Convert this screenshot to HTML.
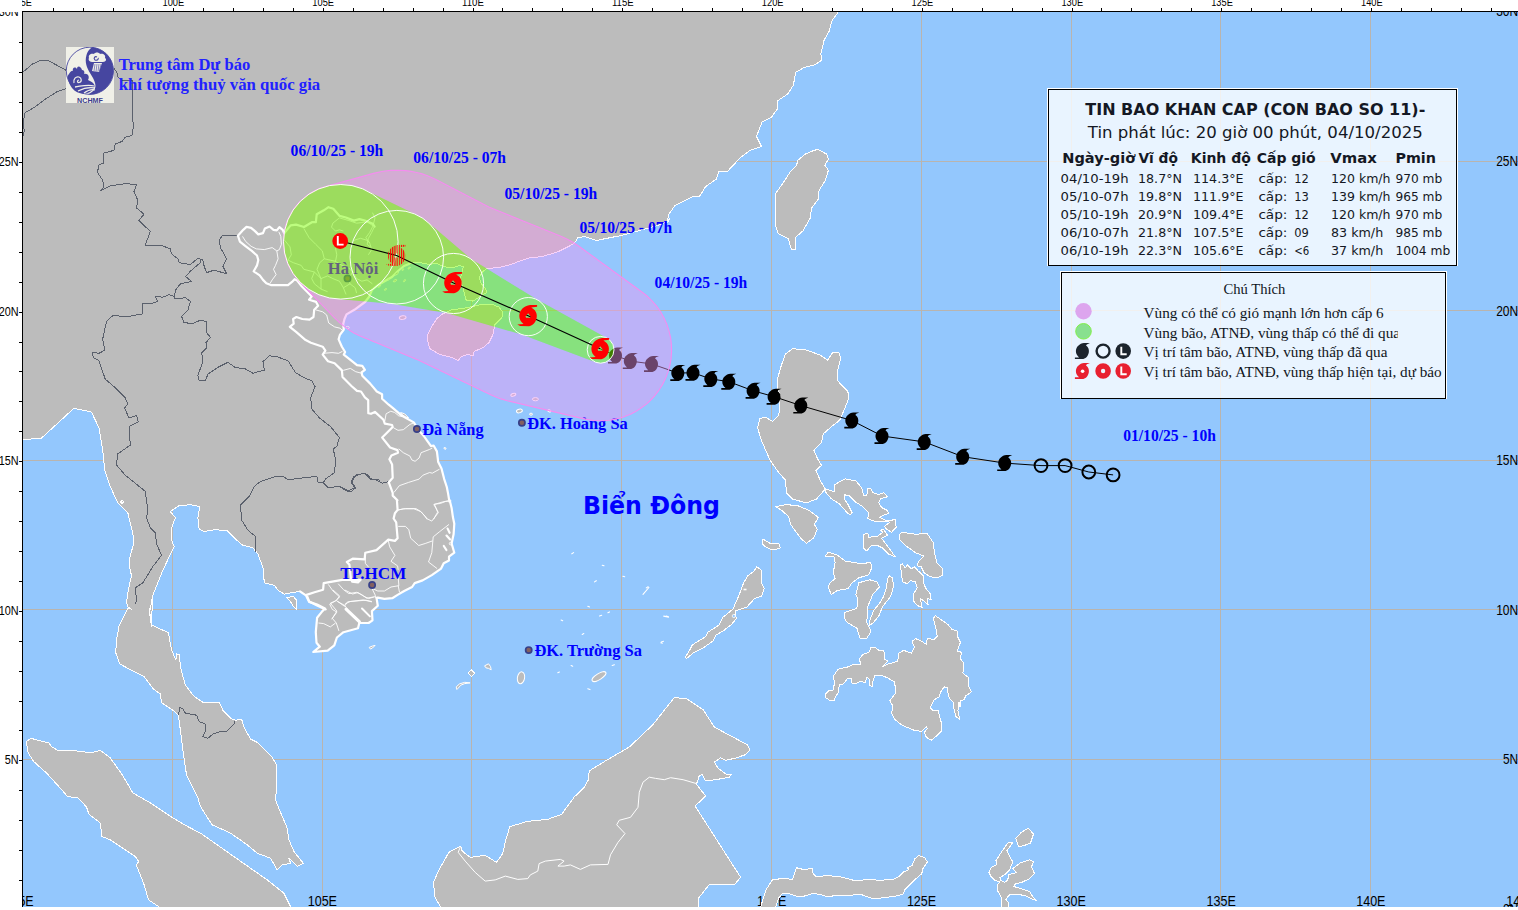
<!DOCTYPE html>
<html lang="vi"><head><meta charset="utf-8"><title>Tin bao khan cap - Con bao so 11</title>
<style>html,body{margin:0;padding:0;background:#fff;overflow:hidden}body{width:1518px;height:910px;position:relative}</style></head>
<body>
<svg width="1518" height="910" viewBox="0 0 1518 910" style="position:absolute;left:0;top:0">
<defs>
<clipPath id="mapclip"><rect x="23" y="12" width="1495" height="895"/></clipPath>
<mask id="nogreen" maskUnits="userSpaceOnUse" x="0" y="0" width="1518" height="910"><rect width="1518" height="910" fill="#fff"/><path d="M337.9,184.6 L333.7,184.9 L328.2,185.9 L324.1,187.0 L320.1,188.3 L316.3,190.0 L312.5,191.9 L307.8,195.0 L304.4,197.5 L301.2,200.3 L297.4,204.4 L294.7,207.7 L292.3,211.1 L290.2,214.8 L288.4,218.6 L286.8,222.5 L285.2,227.9 L284.1,233.4 L283.6,237.6 L283.4,241.8 L283.6,246.0 L284.1,250.2 L284.8,254.4 L285.9,258.4 L287.3,262.4 L289.0,266.3 L291.6,271.3 L293.9,274.8 L296.5,278.2 L299.3,281.3 L302.3,284.3 L305.5,287.0 L310.1,290.2 L315.0,293.0 L320.1,295.3 L325.5,297.0 L331.0,298.3 L335.1,298.8 L390.9,303.7 L446.8,312.9 L522.3,334.7 L597.7,362.9 L599.9,363.2 L601.9,363.1 L605.7,362.2 L607.5,361.3 L609.4,359.9 L611.9,357.0 L613.0,354.9 L613.7,352.4 L614.0,350.1 L613.8,347.5 L613.1,345.0 L611.9,342.6 L610.5,340.8 L608.6,339.0 L537.9,300.1 L471.2,259.1 L426.5,221.0 L421.8,217.7 L416.8,214.9 L365.2,190.0 L361.4,188.3 L354.7,186.2 L349.2,185.1 L343.6,184.6Z" fill="#000"/></mask>
<path id="ty" d="M7.4,-8 L1.5,-8 C-3,-7.6 -6.6,-4 -6.6,0.2 C-6.6,2.6 -5.4,4.6 -3.4,6.3 L-7.6,6.3 L-7.6,8 L0.8,8 C4,7.2 6.4,3.9 6.4,0 C6.4,-1.8 5.8,-3.4 4.7,-4.5 L3.5,-5.5 L4.3,-6.7 Z"/>
<path id="tyr" fill-rule="evenodd" d="M9,-10.8 L2,-10.8 C-4,-10.3 -8.8,-5.5 -8.8,0.3 C-8.8,3.6 -7.2,6.3 -4.6,8.3 L-10.8,8.6 L-8,10.3 L1,10.5 C5.4,9.6 8.7,5.3 8.7,0 C8.7,-2.8 7.4,-5.3 5.3,-6.9 L3.2,-8.3 L9,-9 Z M0,-2.6 L2.6,0.6 L2,2 L-2,2 L-2.6,0.6 Z"/>
<clipPath id="tyclip"><use href="#tyr"/></clipPath>
<pattern id="hatch" width="2.2" height="4" patternUnits="userSpaceOnUse"><rect width="1.1" height="4" fill="#f00"/></pattern>
</defs>
<rect width="1518" height="910" fill="#fff"/>
<g clip-path="url(#mapclip)">
<rect x="23" y="12" width="1495" height="895" fill="#93c7fd"/>
<path d="M172.5,12 V907 M322.5,12 V907 M471.5,12 V907 M621.5,12 V907 M771.5,12 V907 M921.5,12 V907 M1071.5,12 V907 M1220.5,12 V907 M1370.5,12 V907 M23,161.5 H1518 M23,310.5 H1518 M23,460.5 H1518 M23,609.5 H1518 M23,759.5 H1518 " stroke="#b9b4ae" stroke-width="1" fill="none" shape-rendering="crispEdges"/>
<g font-family="Liberation Sans, Arial, sans-serif" font-size="14px" fill="#000">
<text x="11.5" y="906" textLength="22.2" lengthAdjust="spacingAndGlyphs">95E</text>
<text x="157.8" y="906" textLength="29.3" lengthAdjust="spacingAndGlyphs">100E</text>
<text x="307.7" y="906" textLength="29.3" lengthAdjust="spacingAndGlyphs">105E</text>
<text x="457.5" y="906" textLength="29.3" lengthAdjust="spacingAndGlyphs">110E</text>
<text x="607.2" y="906" textLength="29.3" lengthAdjust="spacingAndGlyphs">115E</text>
<text x="757.1" y="906" textLength="29.3" lengthAdjust="spacingAndGlyphs">120E</text>
<text x="906.9" y="906" textLength="29.3" lengthAdjust="spacingAndGlyphs">125E</text>
<text x="1056.6" y="906" textLength="29.3" lengthAdjust="spacingAndGlyphs">130E</text>
<text x="1206.5" y="906" textLength="29.3" lengthAdjust="spacingAndGlyphs">135E</text>
<text x="1356.2" y="906" textLength="29.3" lengthAdjust="spacingAndGlyphs">140E</text>
<text x="1506.2" y="906" textLength="29.3" lengthAdjust="spacingAndGlyphs">145E</text>
<text x="1496.2" y="15.8" textLength="22.0" lengthAdjust="spacingAndGlyphs">30N</text>
<text x="1496.2" y="166.0" textLength="22.0" lengthAdjust="spacingAndGlyphs">25N</text>
<text x="1496.2" y="315.5" textLength="22.0" lengthAdjust="spacingAndGlyphs">20N</text>
<text x="1496.2" y="465.0" textLength="22.0" lengthAdjust="spacingAndGlyphs">15N</text>
<text x="1496.2" y="614.5" textLength="22.0" lengthAdjust="spacingAndGlyphs">10N</text>
<text x="1503.0" y="764.0" textLength="15.2" lengthAdjust="spacingAndGlyphs">5N</text>
<text x="1503.0" y="913.5" textLength="15.2" lengthAdjust="spacingAndGlyphs">0N</text>
</g>
<path d="M17.0,6.0 L841.0,6.0 L837.9,12.5 L831.6,21.3 L829.1,31.3 L824.1,40.1 L820.9,53.9 L821.6,60.1 L815.4,64.6 L804.1,67.6 L795.8,72.1 L793.3,85.2 L787.8,93.9 L777.8,100.7 L777.3,109.0 L771.5,117.2 L762.0,122.0 L756.5,136.5 L761.5,146.5 L750.2,150.3 L740.2,157.8 L727.7,171.1 L718.9,171.6 L716.4,179.1 L705.6,186.6 L699.4,196.6 L693.9,196.1 L675.1,205.4 L668.8,214.2 L667.1,222.9 L669.7,218.8 L666.3,222.1 L658.0,225.5 L639.6,230.5 L621.2,235.5 L609.5,237.8 L596.2,240.5 L584.5,236.5 L577.8,237.8 L574.5,243.2 L570.1,245.7 L558.2,251.6 L542.4,256.6 L530.5,257.6 L518.7,261.5 L510.7,264.5 L498.9,267.5 L487.0,268.5 L483.1,271.4 L479.1,277.4 L481.1,283.3 L485.0,288.2 L487.0,292.2 L479.1,297.1 L473.2,301.1 L466.2,300.1 L463.3,289.2 L460.3,279.3 L463.3,266.5 L459.3,265.5 L452.0,268.0 L443.5,266.5 L436.0,263.0 L429.7,264.5 L419.8,262.5 L413.0,263.0 L409.0,264.0 L404.0,266.0 L398.0,271.0 L392.0,277.0 L385.0,281.0 L378.0,285.0 L372.0,290.0 L369.0,297.0 L365.0,302.0 L354.4,309.8 L346.5,314.4 L344.5,319.0 L343.2,324.3 L343.8,329.6 L339.9,334.8 L338.6,339.4 L341.9,346.7 L345.1,352.0 L343.8,354.6 L350.4,359.9 L357.0,365.1 L362.3,365.8 L364.9,369.8 L361.6,372.4 L362.3,375.7 L370.2,383.6 L376.8,391.5 L382.1,394.2 L382.1,398.8 L388.7,404.7 L392.7,407.9 L402.0,415.8 L413.8,422.4 L417.8,429.0 L424.4,436.9 L431.0,446.1 L433.6,445.5 L436.9,451.4 L438.2,462.0 L441.5,468.6 L444.2,479.1 L446.8,487.0 L448.1,493.6 L449.4,501.5 L449.6,500.0 L451.6,507.9 L452.9,517.1 L454.3,523.7 L453.6,534.3 L451.6,543.5 L454.3,552.7 L449.0,556.7 L449.0,560.6 L443.7,563.3 L441.1,568.6 L431.8,575.1 L422.6,580.4 L414.7,583.1 L412.1,587.0 L404.2,591.0 L397.6,594.9 L392.3,598.2 L384.4,598.9 L377.8,597.6 L376.5,597.9 L377.8,605.8 L371.9,611.1 L372.5,620.3 L368.6,623.0 L359.3,623.0 L358.0,628.2 L343.5,632.2 L336.9,637.5 L334.3,645.4 L327.7,650.6 L313.2,652.0 L319.8,646.7 L316.5,642.7 L315.8,632.2 L317.1,617.7 L322.4,611.1 L325.0,608.5 L317.1,604.5 L309.2,601.9 L305.9,595.3 L300.0,591.3 L284.3,594.1 L278.1,590.4 L274.3,585.4 L264.3,582.9 L263.0,567.8 L258.0,554.1 L253.0,547.8 L241.7,544.8 L233.0,536.5 L226.7,530.3 L214.2,529.8 L204.2,531.5 L199.1,529.0 L197.9,517.7 L199.9,506.5 L190.4,504.7 L179.1,505.7 L170.3,511.5 L175.4,517.7 L171.6,527.8 L171.6,540.3 L174.1,546.5 L162.8,570.3 L152.8,595.4 L149.5,612.9 L151.6,626.7 L152.3,600.0 L149.5,610.0 L151.6,625.1 L162.8,630.1 L168.3,632.6 L171.6,650.1 L175.9,660.1 L176.6,653.9 L179.1,654.6 L180.9,668.9 L185.4,685.2 L194.1,696.4 L202.9,702.2 L212.9,702.7 L219.2,702.2 L222.9,710.2 L231.7,719.0 L235.5,720.2 L241.7,719.5 L244.2,727.8 L250.5,739.0 L258.0,742.8 L271.8,756.6 L276.8,765.3 L276.8,782.9 L275.6,800.4 L281.8,815.4 L286.8,826.7 L288.9,839.8 L293.9,851.5 L303.3,863.2 L297.3,866.5 L288.9,858.2 L290.6,863.2 L282.2,864.9 L277.2,869.9 L270.5,858.2 L257.2,853.2 L247.2,844.8 L230.5,833.1 L212.1,824.8 L200.4,806.4 L197.9,797.9 L186.6,775.4 L183.6,755.3 L180.4,730.3 L178.4,715.2 L172.8,710.2 L161.6,702.7 L160.3,693.9 L153.3,688.9 L144.0,676.4 L130.3,669.6 L119.7,663.9 L115.7,652.6 L116.5,640.1 L119.0,626.3 L124.0,616.3 L128.3,607.0 L131.5,609.2 L128.3,607.9 L126.5,602.9 L127.8,592.9 L131.5,575.4 L129.0,565.3 L130.3,555.3 L134.0,542.8 L132.8,532.8 L127.8,512.7 L117.7,502.7 L110.2,486.4 L104.7,470.1 L102.7,450.1 L98.9,427.6 L91.4,412.0 L73.9,408.3 L41.3,438.3 L23.0,439.6 L17.0,439.9Z M26.3,741.5 L31.3,738.3 L37.6,740.3 L48.8,742.8 L51.4,746.5 L57.6,750.3 L75.2,750.8 L91.4,752.8 L100.2,750.3 L110.2,757.8 L122.7,775.4 L132.8,792.9 L150.3,802.9 L172.8,817.9 L187.9,826.7 L200.4,833.1 L233.8,856.5 L267.2,879.9 L283.9,893.2 L290.6,906.6 L292.0,913.0 L160.0,913.0 L158.7,906.6 L148.6,899.9 L143.6,883.2 L136.3,864.9 L138.6,861.5 L135.3,856.5 L125.3,849.8 L110.2,839.8 L101.9,836.5 L100.2,822.9 L88.9,814.2 L86.4,806.7 L77.7,797.9 L67.6,796.6 L60.1,787.9 L46.3,772.8 L33.8,761.6 L28.1,752.8Z M817.9,149.5 L826.6,154.1 L828.4,159.1 L824.9,165.3 L828.4,170.3 L825.4,180.4 L819.1,190.4 L818.4,199.1 L811.6,207.9 L810.3,217.9 L805.3,226.7 L803.3,230.5 L795.9,237.1 L795.2,249.8 L791.6,249.8 L788.2,238.8 L778.2,233.8 L775.9,227.1 L775.3,194.1 L784.0,181.6 L790.3,171.6 L796.6,165.3 L797.8,160.3 L805.3,154.1 L814.1,150.3Z M825.2,489.1 L820.2,480.3 L815.9,470.3 L821.5,465.3 L817.7,459.0 L813.9,450.3 L821.5,442.7 L823.2,434.0 L830.2,427.7 L839.7,420.2 L844.0,410.2 L849.0,397.7 L847.8,391.4 L842.7,386.4 L837.2,380.1 L837.7,370.1 L840.7,358.8 L839.0,352.6 L832.7,352.6 L827.7,360.1 L820.2,355.1 L805.2,349.6 L792.6,348.8 L785.6,353.8 L781.4,365.1 L777.1,380.1 L777.6,388.9 L780.1,395.2 L778.9,415.2 L772.6,421.5 L766.3,417.7 L760.1,418.2 L757.6,427.7 L761.3,440.2 L770.1,460.3 L778.9,472.8 L785.6,480.3 L786.4,492.8 L792.6,499.1 L806.4,502.9 L816.4,499.1Z M825.3,491.8 L831.2,498.7 L839.1,503.6 L847.0,512.5 L850.0,515.1 L852.0,512.5 L848.0,504.6 L844.0,498.7 L844.0,494.7 L849.0,495.7 L854.9,501.6 L862.8,506.6 L868.8,512.5 L867.8,518.5 L874.7,521.4 L882.6,521.8 L890.5,520.4 L895.5,519.4 L896.1,527.4 L891.5,532.3 L886.6,529.3 L884.6,526.4 L889.5,522.4 L879.6,517.5 L882.6,515.5 L888.5,513.5 L887.6,510.5 L881.6,507.6 L878.7,502.6 L880.6,498.7 L887.6,496.7 L883.6,492.7 L878.7,494.7 L872.7,492.7 L870.7,488.2 L867.8,488.8 L866.8,495.7 L863.8,495.7 L861.8,487.8 L855.9,480.9 L845.0,478.9 L834.2,484.8 L834.2,491.8 L825.3,488.8Z M440.1,906.2 L435.1,897.4 L433.4,882.4 L438.9,869.9 L448.9,852.3 L460.7,846.1 L462.2,851.1 L470.2,857.4 L485.2,855.3 L496.5,862.4 L502.7,853.6 L505.8,839.8 L509.8,826.8 L526.5,821.5 L547.8,819.3 L561.6,814.3 L574.1,797.2 L584.2,787.2 L588.4,779.7 L589.2,770.9 L605.5,760.9 L629.2,747.1 L653.0,724.6 L674.3,697.5 L686.9,699.0 L703.1,709.6 L714.4,727.1 L730.7,735.9 L747.0,744.6 L750.0,749.6 L745.7,754.6 L734.5,758.4 L725.7,760.2 L720.7,757.7 L714.4,762.2 L718.2,768.4 L726.9,774.7 L731.2,774.2 L729.4,777.2 L715.7,779.7 L705.7,780.9 L701.9,774.2 L698.6,776.7 L697.6,782.2 L696.1,783.5 L700.6,789.7 L705.7,796.0 L695.1,806.0 L740.7,877.4 L734.5,884.4 L709.4,884.4 L698.1,898.7 L698.6,913.0 L440.1,913.0Z M286.8,597.9 L293.1,596.1 L296.8,600.4 L296.8,609.2 L293.6,606.7 L290.6,601.7Z M122.0,500.2 L123.7,502.0 L122.0,503.7 L120.5,502.0Z M775.8,506.6 L785.7,504.6 L797.6,505.6 L809.4,510.5 L818.3,517.5 L814.4,524.4 L817.4,529.3 L813.4,538.2 L806.5,543.2 L801.5,539.2 L795.6,531.3 L790.7,524.4 L788.7,516.5 L781.8,510.5Z M763.0,539.2 L769.9,543.2 L778.8,543.2 L780.2,548.1 L772.9,550.1 L765.9,547.1 L762.4,544.2Z M863.8,534.3 L867.8,533.3 L868.8,537.2 L877.7,536.2 L882.6,532.3 L880.6,530.3 L883.6,529.3 L887.6,535.3 L881.6,538.2 L886.6,545.1 L895.5,557.0 L888.5,554.0 L882.6,548.1 L876.7,545.1 L870.7,546.1 L866.8,551.1 L863.8,548.1 L863.8,541.2Z M899.4,534.3 L902.4,532.3 L916.2,534.3 L927.1,533.3 L933.0,542.2 L935.0,555.0 L937.0,562.9 L942.9,568.9 L942.9,574.8 L938.0,577.8 L930.1,576.8 L924.1,572.8 L921.2,566.9 L917.2,565.9 L918.2,562.0 L924.1,556.0 L916.2,553.1 L906.3,546.1 L899.4,539.2Z M900.4,564.9 L902.4,563.9 L905.4,567.9 L907.3,564.9 L911.3,568.9 L914.3,566.9 L918.2,570.9 L923.2,575.8 L923.2,582.7 L926.1,588.7 L930.1,593.6 L931.1,599.5 L927.1,598.5 L928.1,604.5 L923.2,600.5 L920.2,598.5 L922.2,607.4 L917.2,605.5 L913.3,600.5 L913.3,594.6 L917.2,587.7 L915.2,581.7 L910.3,580.7 L907.3,583.7 L902.4,581.7 L901.4,572.8Z M825.3,556.0 L828.2,552.1 L837.1,555.0 L845.0,561.0 L862.8,563.9 L870.7,562.0 L871.7,567.9 L868.8,574.8 L858.9,577.8 L852.0,582.7 L848.0,588.7 L837.1,590.6 L831.2,594.6 L828.2,586.7 L830.2,582.7 L835.1,578.8 L833.2,572.8 L835.1,562.9 L834.2,557.0Z M858.9,582.7 L869.8,579.8 L876.7,581.7 L879.6,586.7 L872.7,594.6 L867.8,606.5 L866.8,622.3 L869.8,628.2 L870.7,632.2 L866.8,638.1 L859.9,638.1 L856.9,628.2 L847.0,622.3 L844.0,617.3 L845.0,612.4 L856.9,608.4 L857.9,598.5 L855.9,594.6Z M889.5,575.8 L892.5,577.8 L893.5,586.7 L890.5,596.6 L882.6,606.5 L878.7,616.3 L872.7,623.3 L869.8,625.2 L869.8,620.3 L873.7,610.4 L878.7,604.5 L883.6,596.6 L886.6,586.7 L887.6,578.8Z M935.2,615.7 L941.2,619.7 L948.1,624.6 L952.1,629.6 L957.0,630.5 L958.0,637.5 L960.4,642.4 L957.0,651.3 L961.9,652.3 L960.0,658.2 L963.9,663.2 L962.9,673.1 L968.9,678.0 L968.9,686.9 L971.4,691.8 L965.9,695.8 L963.9,699.8 L960.9,700.7 L960.0,706.7 L959.0,701.7 L958.0,710.6 L959.6,719.5 L956.0,716.6 L954.0,708.7 L953.0,701.7 L949.1,697.8 L948.1,693.8 L947.7,687.9 L944.1,686.9 L941.2,690.9 L939.2,696.8 L934.3,699.8 L930.3,707.7 L933.3,710.6 L938.2,710.6 L940.2,718.5 L941.8,724.5 L941.2,731.4 L936.2,736.3 L931.3,740.3 L926.3,737.3 L924.4,732.4 L927.3,728.4 L926.3,726.5 L921.4,731.4 L914.5,730.4 L902.6,725.5 L894.7,719.5 L891.7,713.6 L892.7,705.7 L889.8,700.7 L895.7,692.8 L894.7,682.0 L887.8,678.0 L880.9,675.0 L874.9,675.0 L872.9,681.0 L872.0,686.9 L869.0,684.9 L870.0,680.0 L867.0,677.0 L865.0,682.9 L860.1,681.0 L856.1,683.9 L852.2,683.9 L851.2,678.0 L847.2,679.0 L843.3,683.9 L839.3,684.9 L838.3,692.8 L835.4,696.8 L834.4,700.7 L830.4,700.7 L825.9,697.8 L825.5,693.8 L828.5,690.9 L833.4,689.9 L834.4,682.9 L833.4,676.0 L838.3,669.1 L847.2,667.1 L854.2,664.2 L861.1,664.2 L859.1,659.2 L863.1,654.3 L869.0,652.3 L871.0,647.4 L874.9,647.4 L878.9,650.3 L883.8,650.3 L884.8,659.2 L887.8,661.2 L882.8,666.1 L881.8,667.1 L887.8,664.2 L897.7,661.2 L898.7,653.3 L903.6,650.3 L911.5,653.3 L914.5,647.4 L912.1,641.4 L915.5,638.5 L922.4,641.8 L926.3,644.4 L927.3,638.5 L934.3,639.4 L937.2,636.5 L936.2,629.6 L933.3,618.7Z M756.7,566.7 L761.0,569.7 L761.0,581.5 L764.2,588.5 L761.6,596.4 L754.7,598.3 L746.8,607.2 L735.9,610.8 L734.9,614.2 L736.5,618.1 L732.0,624.0 L723.1,631.0 L716.1,634.9 L713.2,640.9 L703.3,647.8 L693.4,652.7 L686.5,658.7 L685.5,656.7 L689.4,650.7 L692.4,644.8 L705.3,636.9 L708.2,632.0 L719.1,625.0 L723.1,617.1 L732.9,609.2 L738.9,595.4 L743.8,582.5 L747.8,575.6 L753.7,571.6Z M758.8,913.0 L765.7,890.4 L772.6,879.6 L782.5,878.6 L792.4,879.2 L794.3,874.6 L796.3,867.7 L804.2,869.7 L812.1,868.3 L813.1,873.6 L816.1,876.6 L827.0,875.6 L838.8,876.6 L847.7,878.6 L855.6,880.9 L866.5,879.6 L880.3,880.2 L893.2,879.6 L900.1,875.6 L904.0,871.7 L909.0,869.7 L907.0,867.7 L911.9,865.7 L914.9,858.8 L918.9,855.5 L924.8,857.8 L927.4,861.8 L922.8,868.7 L921.8,873.6 L914.9,879.6 L910.0,884.5 L905.0,889.4 L903.0,894.4 L894.2,896.4 L885.3,897.4 L878.3,898.3 L871.4,898.3 L866.5,896.4 L859.6,894.0 L850.7,895.4 L842.8,896.0 L836.8,895.4 L827.0,896.8 L820.0,894.4 L813.1,893.4 L803.2,896.4 L797.3,896.4 L790.4,894.0 L782.5,893.4 L778.5,898.3 L773.6,913.0Z M1015.7,838.1 L1021.6,832.1 L1028.5,828.2 L1033.5,834.1 L1030.5,843.0 L1024.6,845.4 L1018.7,847.0Z M1007.8,843.0 L1012.7,842.6 L1006.8,850.9 L1009.8,856.8 L1012.7,861.8 L1009.8,869.7 L1004.8,874.6 L999.9,877.6 L1000.9,880.6 L1004.8,882.5 L1007.8,879.6 L1008.8,874.6 L1016.7,872.6 L1012.7,868.7 L1020.6,862.8 L1029.5,859.8 L1033.5,861.8 L1031.5,866.7 L1034.5,873.6 L1029.5,878.6 L1021.6,882.5 L1015.7,883.5 L1013.7,886.5 L1020.6,888.5 L1029.5,891.4 L1032.5,896.4 L1036.4,900.3 L1032.5,899.3 L1024.6,895.4 L1016.7,894.4 L1009.8,894.4 L1005.8,899.3 L1008.8,903.3 L1006.8,913.0 L1000.9,913.0 L1001.9,901.3 L1000.9,896.4 L997.9,891.4 L997.9,884.5 L999.9,881.5 L994.9,880.6 L991.0,876.6 L989.0,872.6 L991.0,867.7 L996.9,864.7 L995.9,860.8 L1000.9,852.9Z M442.5,313.9 L451.4,310.0 L465.3,308.0 L479.1,305.0 L491.0,304.0 L498.9,307.0 L502.8,312.0 L501.8,317.9 L494.9,324.8 L492.9,334.7 L489.0,342.6 L483.1,347.6 L474.2,351.5 L473.2,355.5 L467.2,354.5 L461.3,356.5 L458.3,360.4 L451.4,357.4 L439.6,354.5 L429.7,348.5 L427.7,340.6 L427.7,334.7 L431.6,326.8 L436.6,318.9Z M471.4,669.8 L474.7,673.1 L471.4,676.4 L468.1,673.1Z" fill="#bcbcbc" stroke="#fff" stroke-width="1" stroke-linejoin="round" shape-rendering="crispEdges"/>
<path d="M400.6,412.5 L404.6,413.8 L408.6,417.8 L405.9,417.1 L402.0,414.5Z M444.2,447.5 L446.1,448.1 L445.5,449.4 L443.9,448.5Z M369.2,647.4 L372.5,646.0 L375.1,645.4 L372.5,648.0 L370.5,649.1Z M484.6,665.8 L488.5,663.8 L490.5,666.5 L491.2,669.8 L488.5,668.4 L485.9,667.8Z M456.9,689.5 L456.2,686.9 L459.5,683.9 L464.8,682.3 L470.1,682.9 L464.8,683.6 L460.8,685.2 L458.2,688.2Z" fill="#bcbcbc" stroke="#fff" stroke-width="1"/>
<path d="M23.0,72.1 L32.6,63.9 L41.3,60.1 L48.8,60.9 L57.6,65.6 L65.6,70.1 L114.1,68.5 L116.8,72.3 L118.3,77.7 L121.4,80.0 L127.0,80.0 L132.2,80.8 L132.4,85.2 L132.8,120.2 L133.5,125.3 L132.0,135.3 L125.3,137.3 L122.0,141.5 L115.2,144.0 L114.0,150.3 L103.2,153.3 L104.0,162.8 L98.4,165.3 L97.7,172.8 L102.7,180.4 L104.0,186.6 L100.2,190.9 L110.2,185.9 L125.3,183.6 L136.5,184.6 L134.0,191.6 L137.8,200.4 L136.5,207.9 L144.0,214.2 L139.0,220.4 L145.3,226.7 M23.0,136.5 L24.3,130.3 L23.0,122.7 L25.1,112.7 L33.8,107.7 L43.8,100.2 L57.6,91.4 L65.6,88.9 L75.2,82.7 L87.7,75.2 L114.0,68.1 M145.3,226.7 L150.3,231.3 L145.3,245.1 L160.3,245.1 L170.3,248.8 L171.6,253.9 L177.9,258.9 L179.1,262.6 L190.4,264.6 L197.9,258.1 L202.9,260.1 L204.2,266.4 L206.7,272.6 L214.2,270.1 L226.7,273.9 L222.9,266.4 L226.7,258.9 L220.4,247.6 L219.2,240.1 L222.9,235.1 L238.0,235.1 M200.4,259.6 L200.4,262.6 L191.6,270.1 L185.4,276.4 L191.6,281.4 L180.4,283.9 L175.4,290.2 L174.6,296.4 L174.6,298.9 L185.4,297.7 L190.4,301.5 L187.9,310.2 L181.6,316.5 L184.1,322.7 L192.9,323.5 L200.4,320.2 L206.7,321.5 L206.7,332.8 L210.4,337.3 L205.9,342.8 L206.7,347.8 L201.7,352.8 L202.9,361.6 L197.9,375.4 L199.1,380.9 L205.4,380.9 L207.9,374.1 L219.2,366.6 L228.0,362.3 L235.5,367.8 L244.2,368.3 L253.0,373.3 L258.0,371.6 L264.3,370.3 L263.0,361.6 L269.3,355.8 L276.8,356.6 L288.1,360.8 L295.6,372.8 L305.6,378.4 L311.9,380.9 L315.1,386.6 L310.6,397.9 L311.9,409.2 L319.4,417.9 L330.7,426.7 M174.6,296.4 L169.1,294.7 L162.8,297.2 L155.3,296.4 L157.8,301.5 L150.3,304.0 L142.8,303.5 L142.3,314.0 L127.8,316.5 L112.7,315.7 L106.5,321.5 L104.0,332.8 L102.7,339.0 L104.7,350.3 L98.9,353.3 L92.7,352.3 L93.2,357.8 L98.9,360.3 L105.2,379.1 L114.0,386.6 L125.3,397.9 L127.8,404.2 L124.5,407.9 L129.0,417.9 L136.5,415.4 L138.3,421.7 L129.0,426.7 M129.0,426.7 L130.3,445.1 L117.7,453.9 L116.5,465.1 L125.3,475.2 L145.3,491.4 L147.8,510.2 L146.5,517.7 L150.3,527.8 L155.3,532.8 L156.6,544.0 L161.6,555.3 L152.8,566.6 L142.8,582.9 L135.3,587.9 L136.5,600.4 L135.3,604.2 M330.7,426.7 L339.4,437.6 L336.9,446.3 L333.2,448.8 L335.7,460.1 L334.4,472.6 L325.7,478.9 L323.1,482.7 M323.1,482.7 L318.1,482.2 L316.9,476.4 L300.6,478.2 L288.1,479.7 L283.1,476.4 L275.6,476.4 L260.5,481.4 L254.3,486.4 L249.2,496.4 L240.5,505.2 L241.7,520.2 L248.0,530.3 L255.5,536.5 L255.5,551.6 M323.1,482.7 L328.2,487.7 L339.4,486.4 L348.2,490.7 L354.5,487.7 L352.0,481.4 L355.7,475.2 L364.5,473.1 L370.7,478.9 L380.0,480.2 M178.4,715.2 L179.9,707.7 L182.4,708.2 L185.4,713.2 L196.6,715.2 L199.1,721.5 L205.4,724.0 L205.9,730.3 L202.9,736.5 L207.9,738.3 L212.9,734.0 L220.4,731.5 L226.7,731.5 L234.2,724.0 L234.2,721.0 M340.0,487.0 L346.6,491.0 L351.9,491.0 L355.8,487.7 L351.2,482.4 L353.2,477.1 L358.5,474.5 L364.4,473.2 L368.3,475.1 L370.3,479.1 L375.6,479.8 L382.2,483.1 L388.1,481.7" fill="none" stroke="#5a606c" stroke-width="1" stroke-linejoin="round" shape-rendering="crispEdges"/>
<path d="M460.7,846.1 L458.2,852.3 L465.2,861.1 L475.2,872.4 L485.2,881.1 L495.2,879.9 L505.3,876.1 L517.8,879.4 L527.8,878.6 L530.3,874.9 L537.8,871.1 L539.1,863.6 L545.3,861.1 L560.4,859.4 L564.1,861.1 L557.9,866.1 L564.1,866.1 L570.4,864.9 L580.4,869.4 L590.4,864.9 L608.0,864.4 L610.5,854.8 L618.0,842.3 L625.0,833.6 L616.7,824.8 L619.2,820.3 L630.5,817.3 L638.0,807.3 L639.3,792.2 L643.0,782.2 L649.3,777.2 L655.6,778.4 L664.3,779.7 L670.6,777.7 L683.1,779.7 L696.1,783.5" fill="none" stroke="#fff" stroke-width="1" stroke-linejoin="round"/>
<path d="M315.5,309.8 L322.7,311.8 L326.7,315.0 L328.7,323.0 L334.6,326.9 L339.9,328.2 L343.2,330.9 M323.4,353.3 L332.0,352.6 L338.6,353.3 L342.5,351.3 M343.2,370.4 L350.4,368.4 L355.7,371.7 L361.0,373.1 M242.5,236.4 L245.8,241.6 L251.1,246.3 L256.4,248.9 L264.3,249.6 L272.2,247.6 L276.8,250.9 L278.1,258.8 L275.5,265.4 L273.5,269.3 L276.1,274.6 L272.2,279.9 L270.2,283.2 M278.8,231.8 L280.8,236.4 L281.4,244.3 L279.4,249.6 L276.8,250.9 M384.8,421.1 L386.1,413.8 L390.8,411.2 L394.7,412.5 L398.7,415.8 L402.0,416.5 M393.4,427.7 L398.0,430.3 L403.3,429.7 L409.9,424.4 L413.2,423.1 M398.7,448.8 L403.3,452.7 L409.9,456.0 L411.9,460.0 L415.1,461.3 L419.1,458.0 L421.1,452.7 L429.7,449.4 L432.3,448.1 M394.1,492.3 L399.3,485.7 L408.6,482.4 L419.1,479.1 L423.1,475.1 L429.7,472.5 L432.3,473.2 L439.5,469.2 M398.0,510.1 L403.3,508.8 L413.8,508.8 L420.4,511.4 L425.7,516.7 L427.0,519.3 M451.4,500.9 L445.5,501.5 L440.2,503.5 L434.3,504.2 L436.2,508.1 L437.6,512.1 L433.6,519.3 M398.2,509.9 L405.5,508.6 L416.0,508.6 L421.3,511.9 L426.6,518.5 L431.8,521.1 L438.4,512.5 L433.8,504.6 L442.4,502.0 L448.3,500.7 M398.2,526.4 L405.5,526.4 L408.8,529.7 L410.7,538.2 L418.7,545.5 L425.2,543.5 L432.5,540.9 M449.0,524.4 L439.7,531.6 L433.2,536.9 L431.8,552.7 L428.5,562.0 L437.1,568.6 M388.3,540.9 L389.7,546.8 L394.9,555.4 L391.0,561.3 L397.6,565.9 L398.2,569.9 M365.3,554.1 L365.3,563.3 L368.6,567.2 M398.2,577.8 L398.9,585.7 L391.0,587.0 L384.4,591.0 L377.8,591.0 L371.9,588.3 M398.2,585.7 L399.5,592.3 M371.9,588.3 L375.1,594.9 L375.8,598.2 M328.3,584.4 L333.0,591.0 L339.6,596.9 L335.6,600.9 L329.7,604.2 L332.3,609.4 L336.9,612.1 L331.6,619.3 M338.2,583.7 L343.5,589.7 L348.8,593.6 L356.7,592.3 L362.0,594.9 L366.6,598.2 L373.8,596.9 M337.6,601.5 L344.8,605.5 L351.4,614.7 L358.0,619.3 M344.8,604.2 L350.1,601.5 L365.9,600.2 L371.9,601.5 M333.0,590.0 L339.6,595.9 L336.3,600.5 L330.3,603.2 L336.9,611.1 L332.3,618.3 L336.3,623.0 L338.9,630.9 M318.5,623.0 L323.7,623.6 L330.3,626.9 L335.6,623.0 M336.3,600.5 L344.8,606.5 M344.8,605.8 L347.5,601.9 L363.3,599.9 L371.9,601.9 M344.8,590.0 L352.7,594.0 L358.0,592.6 L363.3,595.9 L368.6,598.6 L375.1,596.6" fill="none" stroke="#fff" stroke-width="0.9" stroke-linejoin="round"/>
<path d="M374.6,226.5 L372.8,223.8 L364.9,220.6 L359.4,219.1 L353.9,220.6 L345.9,217.5 L339.6,215.9 L333.3,208.8 L328.5,207.2 L323.8,210.3 L316.7,214.3 L315.9,222.2 L311.9,222.2 L304.0,227.0 L296.1,224.6 L290.6,225.4 L284.2,233.3 L282.7,229.8 L279.4,227.1 L276.8,230.4 L273.5,229.8 L269.6,226.5 L264.9,228.5 L263.0,233.1 L258.3,234.4 L255.0,231.1 L251.1,227.8 L246.5,226.9 L243.2,229.8 L237.9,235.7 L239.9,241.6 L245.8,246.3 L251.8,250.9 L257.0,255.5 L258.3,260.1 L257.0,265.4 L253.7,271.3 L259.7,275.3 L263.0,279.9 L266.3,283.2 L270.9,285.1 L288.0,285.1 L292.0,281.9 L294.6,279.2 L297.2,280.5 L301.9,286.5 L309.1,293.7 L311.7,296.4 L309.1,299.7 L316.1,301.9 L318.1,305.8 L314.2,309.8 L313.5,317.0 L309.6,319.7 L302.3,319.0 L296.4,317.0 L293.1,319.0 L293.7,323.6 L289.8,326.9 L296.4,332.2 L305.6,340.1 L310.9,342.7 L322.7,346.7 L325.4,350.6 L322.7,354.6 L328.0,361.2 L334.6,363.2 L341.9,370.4 L342.5,377.0 L351.7,386.2 L357.0,390.9 L361.0,391.5 L364.9,397.4 L368.2,400.1 L368.3,413.2 L371.0,413.8 L374.9,411.9 L383.5,419.8 L384.8,423.7 L392.1,425.0 L392.7,427.0 L382.2,437.6 L390.1,447.5 L397.4,450.1 L398.0,452.7 L391.4,455.4 L389.4,459.3 L392.1,464.6 L392.7,477.8 L388.8,482.4 L392.7,492.9 L392.7,495.6 L397.4,500.2 L396.9,500.0 L397.6,509.9 L394.9,513.2 L393.6,518.5 L396.2,522.4 L397.6,538.2 L394.9,540.9 L388.3,539.6 L376.5,550.1 L365.3,552.7 L364.6,559.3 L352.7,558.7 L346.8,562.0 L349.4,564.6 L350.8,577.8 L352.1,581.7 L358.0,582.4 L360.6,579.8 L342.2,579.8 L323.7,583.1 L323.1,589.7 L314.5,592.3 L306.6,594.9 L309.2,601.5 L317.1,605.5 L325.7,609.4" fill="none" stroke="#fff" stroke-width="2.2" stroke-linejoin="round" stroke-linecap="round"/>
<path d="M409.0,264.0 L404.0,266.0 L398.0,271.0 L392.0,277.0 L385.0,281.0 L378.0,285.0 L372.0,290.0 L369.0,297.0 L365.0,302.0 L354.4,309.8 L346.5,314.4 L344.5,319.0 L343.2,324.3 L343.8,329.6 L339.9,334.8 L338.6,339.4 L341.9,346.7 L345.1,352.0 L343.8,354.6 L350.4,359.9 L357.0,365.1 L362.3,365.8 L364.9,369.8 L361.6,372.4 L362.3,375.7 L370.2,383.6 L376.8,391.5 L382.1,394.2 L382.1,398.8 L388.7,404.7 L392.7,407.9 L402.0,415.8 L413.8,422.4 L417.8,429.0 L424.4,436.9 L431.0,446.1 L433.6,445.5 L436.9,451.4 L438.2,462.0 L441.5,468.6 L444.2,479.1 L446.8,487.0 L448.1,493.6 L449.4,501.5 L449.6,500.0 L451.6,507.9 L452.9,517.1 L454.3,523.7 L453.6,534.3 L451.6,543.5 L454.3,552.7 L449.0,556.7 L449.0,560.6 L443.7,563.3 L441.1,568.6 L431.8,575.1 L422.6,580.4 L414.7,583.1 L412.1,587.0 L404.2,591.0 L397.6,594.9 L392.3,598.2 L384.4,598.9 L377.8,597.6 L376.5,597.9 L377.8,605.8 L371.9,611.1 L372.5,620.3 L368.6,623.0 L359.3,623.0 L358.0,628.2 L343.5,632.2 L336.9,637.5 L334.3,645.4 L327.7,650.6 L313.2,652.0 L319.8,646.7 L316.5,642.7 L315.8,632.2 L317.1,617.7 L322.4,611.1 L325.0,608.5 L317.1,604.5 L309.2,601.9 L305.9,595.3 L300.0,591.3" fill="none" stroke="#fff" stroke-width="2.2" stroke-linejoin="round" stroke-linecap="round"/>
<path d="M346.1,609.1 L359.3,621.6" stroke="#fff" stroke-width="3.2" stroke-linecap="round" fill="none"/>
<path d="M362.0,608.5 L369.9,616.4" stroke="#fff" stroke-width="2" stroke-linecap="round" fill="none"/>
<path d="M561.1,620.0 l1.6,0.8 M599.5,616.0 l2.2,-0.8 M607.9,612.7 l1.6,-0.8 M666.3,616.0 l2.2,0.8 M582.2,634.4 l1.6,-0.8 M661.3,642.1 l2.2,-0.8 M571.1,665.5 l1.6,0.8 M612.2,665.5 l2.2,-0.8 M557.8,672.8 l1.6,-0.8 M587.8,688.8 l2.2,0.8 M571.8,553.8 l1.8,-1.2 M602.2,565.2 l1.8,0.6 M594.5,581.9 l1.8,-1.2 M622.9,576.2 l1.8,0.6 M646.3,587.9 l1.8,-1.2 M587.8,606.3 l1.8,0.6 M643.0,594.4 l5.9,-6.9 M663.7,616.1 l4.9,1.0 M660.8,642.8 l1.5,0.5 " stroke="#fff" stroke-width="1.1" fill="none" stroke-linecap="round"/>
<ellipse cx="521" cy="677.8" rx="3.6" ry="6" fill="#bcbcbc" stroke="#fff" stroke-width="1" transform="rotate(10 521 677.8)"/>
<ellipse cx="599" cy="676.6" rx="8" ry="3" fill="#bcbcbc" stroke="#fff" stroke-width="1" transform="rotate(-32 599 676.6)"/>
<ellipse cx="513.3" cy="394.8" rx="2.6" ry="1.3" fill="#bcbcbc" stroke="#fff" stroke-width="1" transform="rotate(-20 513.3 394.8)"/>
<ellipse cx="535.4" cy="399.2" rx="3.0" ry="1.6" fill="#bcbcbc" stroke="#fff" stroke-width="1" transform="rotate(0 535.4 399.2)"/>
<ellipse cx="519.4" cy="410.9" rx="3.0" ry="1.8" fill="#bcbcbc" stroke="#fff" stroke-width="1" transform="rotate(-15 519.4 410.9)"/>
<ellipse cx="531.0" cy="414.2" rx="1.5" ry="1.0" fill="#bcbcbc" stroke="#fff" stroke-width="1" transform="rotate(0 531.0 414.2)"/>
<ellipse cx="549.4" cy="410.9" rx="1.6" ry="1.0" fill="#bcbcbc" stroke="#fff" stroke-width="1" transform="rotate(20 549.4 410.9)"/>
<ellipse cx="402.7" cy="317.6" rx="3.4" ry="1.8" fill="#bcbcbc" stroke="#fff" stroke-width="1" transform="rotate(-10 402.7 317.6)"/>
<ellipse cx="347.5" cy="327.6" rx="1.8" ry="1.2" fill="none" stroke="#fff" stroke-width="1"/>
<path d="M447.6,528.6 l2,4.2 M446.5,535.6 l3.6,3.8 M443.8,546 l2.6,4" stroke="#fff" stroke-width="2.2" stroke-linecap="round" fill="none"/>
<circle cx="450.6" cy="543.6" r="1.3" fill="none" stroke="#fff" stroke-width="0.9"/>
<path d="M743.5,589.5 h3" stroke="#fff" stroke-width="1.6"/>
<circle cx="733.8" cy="616" r="1.6" fill="#93c7fd" stroke="#fff" stroke-width="0.8"/>
<ellipse cx="396.6" cy="273.6" rx="2.2" ry="0.9" fill="#bcbcbc" stroke="#fff" stroke-width="0.8" transform="rotate(-35 396.6 273.6)"/>
<ellipse cx="404.5" cy="280.7" rx="1.4" ry="0.6" fill="#bcbcbc" stroke="#fff" stroke-width="0.8" transform="rotate(-50 404.5 280.7)"/>
<ellipse cx="395.0" cy="280.7" rx="1.9" ry="0.8" fill="#bcbcbc" stroke="#fff" stroke-width="0.8" transform="rotate(-30 395.0 280.7)"/>
<ellipse cx="385.5" cy="289.4" rx="1.3" ry="0.6" fill="#bcbcbc" stroke="#fff" stroke-width="0.8" transform="rotate(-40 385.5 289.4)"/>
<ellipse cx="379.2" cy="286.3" rx="1.6" ry="0.6" fill="#bcbcbc" stroke="#fff" stroke-width="0.8" transform="rotate(-30 379.2 286.3)"/>
<ellipse cx="409.2" cy="268.1" rx="1.4" ry="0.6" fill="#bcbcbc" stroke="#fff" stroke-width="0.8" transform="rotate(-30 409.2 268.1)"/>
<ellipse cx="402.9" cy="269.7" rx="1.1" ry="0.5" fill="#bcbcbc" stroke="#fff" stroke-width="0.8" transform="rotate(-35 402.9 269.7)"/>
<ellipse cx="388.7" cy="279.2" rx="1.1" ry="0.5" fill="#bcbcbc" stroke="#fff" stroke-width="0.8" transform="rotate(-30 388.7 279.2)"/>
<path d="M303.8,228.5 L309.1,237.7 L315.7,244.3 L322.3,250.9 L324.3,258.8 L319.7,262.7 L317.0,269.3 L321.0,278.6 L321.0,289.1 M284.7,240.3 L290.0,246.9 L291.3,254.8 L288.0,260.1 L293.3,262.7 L301.2,265.4 L303.8,269.3 L314.4,272.0 L321.0,278.6 M332.8,223.2 L339.4,217.9 L348.7,220.5 L356.6,223.2 L367.1,221.9 L373.0,225.8 L369.7,232.4 L365.8,237.7 L369.7,243.0 M335.5,248.2 L336.8,254.8 L335.5,261.4 L342.1,265.4 L348.7,268.0 L352.6,272.0 M324.3,258.8 L330.2,260.1 L335.5,261.4 M321.0,278.6 L327.6,275.9 L332.8,278.6 L339.4,281.2 L343.4,287.8 L346.0,294.4 M352.6,272.0 L356.6,278.6 L361.8,281.2 L367.1,279.9 L372.4,283.8 M353.9,240.3 L360.5,238.3 L367.1,240.3 L369.7,243.0 L371.7,249.6 L368.4,254.8 M352.6,272.0 L348.7,278.6 L350.0,283.8 L355.2,287.8 L356.6,293.1 M343.4,287.8 L350.0,283.8 M332.8,223.2 L331.5,227.1 L335.5,231.1 L339.4,229.8 L343.4,231.1 M314.4,272.0 L311.7,278.6 L314.4,283.8 L321.0,289.1 L327.6,291.7 M373.0,225.8 L375.0,217.9 L372.4,212.6 M374.5,226.5 L371.7,232.4 L368.4,238.3 L367.1,244.3 L370.4,246.9" stroke="#fff" stroke-width="0.8" fill="none" stroke-linejoin="round"/>
<g font-family="Liberation Serif, Times New Roman, serif" font-weight="bold" font-size="16px" fill="#0000ff">
<circle cx="416.9" cy="429.0" r="3.1" fill="#84605f" stroke="#384088" stroke-width="1.7"/>
<circle cx="372.1" cy="585.0" r="3.1" fill="#84605f" stroke="#384088" stroke-width="1.7"/>
<circle cx="521.9" cy="422.7" r="3.1" fill="#84605f" stroke="#384088" stroke-width="1.7"/>
<circle cx="528.7" cy="650.1" r="3.1" fill="#84605f" stroke="#384088" stroke-width="1.7"/>
<circle cx="347.5" cy="278.4" r="3.1" fill="#84605f" stroke="#384088" stroke-width="1.7"/>
<text x="422.2" y="434.5" textLength="61.5" lengthAdjust="spacingAndGlyphs">Đà Nẵng</text>
<text x="340.2" y="578.8" textLength="66" lengthAdjust="spacingAndGlyphs">TP.HCM</text>
<text x="527.2" y="428.8" textLength="100.5" lengthAdjust="spacingAndGlyphs">ĐK. Hoàng Sa</text>
<text x="534.4" y="656.1" textLength="107.5" lengthAdjust="spacingAndGlyphs">ĐK. Trường Sa</text>
</g>
<text x="582.9" y="513.8" font-family="DejaVu Sans, Verdana, sans-serif" font-weight="bold" font-size="24px" fill="#0000ff" textLength="137.1" lengthAdjust="spacingAndGlyphs">Biển Đông</text>
<path d="M600.2,348.8 L615.6,355.6 L630.4,361.1 L651.6,363.9 L677.9,373.0 L693.1,372.8 L710.9,378.9 L728.9,381.7 L753.2,390.8 L774.2,396.7 L800.9,405.6 L851.9,420.5 L882.1,436.0 L924.3,441.9 L962.8,456.7 L1004.8,463.1 L1041.0,465.6 L1065.1,465.6 L1088.8,472.0 L1113.1,474.9" stroke="#000" stroke-width="1" fill="none"/>
<use href="#ty" x="615.6" y="355.6" fill="#000"/>
<use href="#ty" x="630.4" y="361.1" fill="#000"/>
<use href="#ty" x="651.6" y="363.9" fill="#000"/>
<use href="#ty" x="677.9" y="373.0" fill="#000"/>
<use href="#ty" x="693.1" y="372.8" fill="#000"/>
<use href="#ty" x="710.9" y="378.9" fill="#000"/>
<use href="#ty" x="728.9" y="381.7" fill="#000"/>
<use href="#ty" x="753.2" y="390.8" fill="#000"/>
<use href="#ty" x="774.2" y="396.7" fill="#000"/>
<use href="#ty" x="800.9" y="405.6" fill="#000"/>
<use href="#ty" x="851.9" y="420.5" fill="#000"/>
<use href="#ty" x="882.1" y="436.0" fill="#000"/>
<use href="#ty" x="924.3" y="441.9" fill="#000"/>
<use href="#ty" x="962.8" y="456.7" fill="#000"/>
<use href="#ty" x="1004.8" y="463.1" fill="#000"/>
<circle cx="1041.0" cy="465.6" r="6.4" fill="none" stroke="#000" stroke-width="2"/>
<circle cx="1065.1" cy="465.6" r="6.4" fill="none" stroke="#000" stroke-width="2"/>
<circle cx="1088.8" cy="472.0" r="6.4" fill="none" stroke="#000" stroke-width="2"/>
<circle cx="1113.1" cy="474.9" r="6.4" fill="none" stroke="#000" stroke-width="2"/>
<path d="M390.4,170.4 L381.9,171.5 L373.6,173.4 L324.1,187.0 L320.1,188.3 L315.0,190.6 L310.1,193.4 L305.5,196.6 L301.2,200.3 L297.4,204.4 L293.9,208.8 L290.9,213.6 L288.4,218.6 L286.3,223.8 L284.8,229.2 L283.9,234.8 L283.5,240.4 L283.6,246.0 L284.6,253.0 L285.9,258.4 L287.8,263.7 L290.2,268.8 L293.9,274.8 L298.3,280.3 L333.8,317.2 L340.0,323.1 L345.0,327.1 L350.3,330.7 L353.9,332.9 L359.6,335.8 L419.3,360.5 L491.2,395.0 L497.1,397.5 L501.1,398.9 L507.2,400.7 L585.0,419.1 L593.6,420.5 L598.9,420.8 L604.1,420.7 L609.3,420.3 L614.5,419.4 L622.9,417.2 L631.0,414.0 L635.6,411.6 L640.0,408.8 L647.0,403.6 L650.8,400.0 L654.4,396.2 L658.6,390.7 L662.4,384.8 L665.5,378.6 L668.0,372.1 L669.9,365.4 L671.1,358.5 L671.6,351.5 L671.4,344.6 L670.6,337.7 L669.0,330.9 L666.8,324.2 L664.0,317.9 L660.6,311.8 L656.6,306.1 L652.0,300.8 L647.0,296.0 L642.9,292.8 L578.2,245.7 L572.9,242.2 L567.3,239.2 L561.5,236.5 L488.8,207.0 L435.9,179.5 L428.1,176.0 L422.1,173.9 L417.9,172.8 L409.6,171.1 L405.3,170.6 L398.9,170.2Z" fill="#f298f2" fill-opacity="0.44" mask="url(#nogreen)"/>
<path d="M390.4,170.4 L381.9,171.5 L373.6,173.4 L324.1,187.0 L320.1,188.3 L315.0,190.6 L310.1,193.4 L305.5,196.6 L301.2,200.3 L297.4,204.4 L293.9,208.8 L290.9,213.6 L288.4,218.6 L286.3,223.8 L284.8,229.2 L283.9,234.8 L283.5,240.4 L283.6,246.0 L284.6,253.0 L285.9,258.4 L287.8,263.7 L290.2,268.8 L293.9,274.8 L298.3,280.3 L333.8,317.2 L340.0,323.1 L345.0,327.1 L350.3,330.7 L353.9,332.9 L359.6,335.8 L419.3,360.5 L491.2,395.0 L497.1,397.5 L501.1,398.9 L507.2,400.7 L585.0,419.1 L593.6,420.5 L598.9,420.8 L604.1,420.7 L609.3,420.3 L614.5,419.4 L622.9,417.2 L631.0,414.0 L635.6,411.6 L640.0,408.8 L647.0,403.6 L650.8,400.0 L654.4,396.2 L658.6,390.7 L662.4,384.8 L665.5,378.6 L668.0,372.1 L669.9,365.4 L671.1,358.5 L671.6,351.5 L671.4,344.6 L670.6,337.7 L669.0,330.9 L666.8,324.2 L664.0,317.9 L660.6,311.8 L656.6,306.1 L652.0,300.8 L647.0,296.0 L642.9,292.8 L578.2,245.7 L572.9,242.2 L567.3,239.2 L561.5,236.5 L488.8,207.0 L435.9,179.5 L428.1,176.0 L422.1,173.9 L417.9,172.8 L409.6,171.1 L405.3,170.6 L398.9,170.2Z" fill="none" stroke="#f58cf0" stroke-width="1.1" />
<path d="M337.9,184.6 L333.7,184.9 L328.2,185.9 L324.1,187.0 L320.1,188.3 L316.3,190.0 L312.5,191.9 L307.8,195.0 L304.4,197.5 L301.2,200.3 L297.4,204.4 L294.7,207.7 L292.3,211.1 L290.2,214.8 L288.4,218.6 L286.8,222.5 L285.2,227.9 L284.1,233.4 L283.6,237.6 L283.4,241.8 L283.6,246.0 L284.1,250.2 L284.8,254.4 L285.9,258.4 L287.3,262.4 L289.0,266.3 L291.6,271.3 L293.9,274.8 L296.5,278.2 L299.3,281.3 L302.3,284.3 L305.5,287.0 L310.1,290.2 L315.0,293.0 L320.1,295.3 L325.5,297.0 L331.0,298.3 L335.1,298.8 L390.9,303.7 L446.8,312.9 L522.3,334.7 L597.7,362.9 L599.9,363.2 L601.9,363.1 L605.7,362.2 L607.5,361.3 L609.4,359.9 L611.9,357.0 L613.0,354.9 L613.7,352.4 L614.0,350.1 L613.8,347.5 L613.1,345.0 L611.9,342.6 L610.5,340.8 L608.6,339.0 L537.9,300.1 L471.2,259.1 L426.5,221.0 L421.8,217.7 L416.8,214.9 L365.2,190.0 L361.4,188.3 L354.7,186.2 L349.2,185.1 L343.6,184.6Z" fill="#7cfc00" fill-opacity="0.5"/>
<circle cx="600.6" cy="349.8" r="13.4" fill="none" stroke="#fff" stroke-opacity="0.95" stroke-width="1"/>
<circle cx="528.3" cy="316.6" r="19.1" fill="none" stroke="#fff" stroke-opacity="0.95" stroke-width="1"/>
<circle cx="453.5" cy="283.5" r="30.1" fill="none" stroke="#fff" stroke-opacity="0.95" stroke-width="1"/>
<circle cx="396.8" cy="257.2" r="46.8" fill="none" stroke="#fff" stroke-opacity="0.95" stroke-width="1"/>
<circle cx="340.8" cy="241.8" r="57.3" fill="none" stroke="#fff" stroke-opacity="0.95" stroke-width="1"/>
<text x="327.8" y="274.4" font-family="Liberation Serif, serif" font-weight="bold" font-size="17px" fill="#62627f" textLength="50.5" lengthAdjust="spacingAndGlyphs">Hà Nội</text>
<path d="M600.2,348.8 L528.1,315.8 L453.0,282.8 L396.6,255.5 L340.2,241.0" stroke="#000" stroke-width="1.2" fill="none"/>
<use href="#tyr" x="600.2" y="348.8" fill="#f00"/>
<use href="#tyr" x="528.1" y="315.8" fill="#f00"/>
<use href="#tyr" x="453.0" y="282.8" fill="#f00"/>
<g transform="translate(396.6,255.5)"><g clip-path="url(#tyclip)"><rect x="-12" y="-12" width="24" height="24" fill="url(#hatch)"/></g></g>
<circle cx="340.2" cy="241.0" r="7.9" fill="#f00"/>
<path d="M337.8,236.0 v8.6 h5.8" stroke="#fff" stroke-width="1.9" fill="none"/>
<g font-family="Liberation Serif, Times New Roman, serif" font-weight="bold" font-size="16px" fill="#0000ff">
<text x="290.6" y="155.8" textLength="92.7" lengthAdjust="spacingAndGlyphs">06/10/25 - 19h</text>
<text x="413.3" y="162.8" textLength="92.7" lengthAdjust="spacingAndGlyphs">06/10/25 - 07h</text>
<text x="504.5" y="199.1" textLength="92.7" lengthAdjust="spacingAndGlyphs">05/10/25 - 19h</text>
<text x="579.5" y="232.8" textLength="92.7" lengthAdjust="spacingAndGlyphs">05/10/25 - 07h</text>
<text x="654.6" y="287.9" textLength="92.7" lengthAdjust="spacingAndGlyphs">04/10/25 - 19h</text>
<text x="1123.2" y="441.4" textLength="92.7" lengthAdjust="spacingAndGlyphs">01/10/25 - 10h</text>
</g>
<g>
<rect x="66" y="47" width="48" height="56" fill="#f0f0e8"/>
<clipPath id="lgc"><rect x="66" y="47" width="48" height="56"/></clipPath>
<g clip-path="url(#lgc)">
<circle cx="89.9" cy="70.8" r="23.6" fill="#f0f0e8" stroke="#4848a0" stroke-width="0.9"/>
<path d="M92.37,47.33 A23.6,23.6 0 0 1 88.25,94.34 C98,90 96,84 93,78 C88,70 84,64 86.5,55 C88,50 91,48 92.37,47.33 Z" fill="#4646a0"/>
<path d="M67.5,76 C70,73 71,70 73,71 C72,68 75,66 77,69 C77,65 81,66 82,70 C84,70 85,72 84,74 C88,73 90,77 88,80 C92,82 96,84 94,88 C90,95 78,96 72,88 C69,84 68,80 67.5,76 Z" fill="#4646a0"/>
<path d="M74,83 C73,79 76,76 79,77 C82,78 82,82 79,82.5 C77,83 77,80 79,80" stroke="#f0f0e8" stroke-width="1.2" fill="none"/>
<path d="M75,87 C82,86 88,84 94,86 M78,91 C84,88 90,87 95,88 M84,93 C88,90 92,89 95,90" stroke="#f0f0e8" stroke-width="1.3" fill="none"/>
<path d="M89,58 C88,55 91,53 94,54 C95,52 99,52 100,54 C103,53 106,55 105,58 C107,59 106,62 103,62 L92,62 C89,62 88,59 89,58 Z" fill="#f0f0e8"/>
<path d="M97,57 C95,56 93,58 95,60 C97,61 99,59 98,58" stroke="#4646a0" stroke-width="1.1" fill="none"/>
<path d="M94,63 L92,71 L99,72 L102,63 Z" fill="#f0f0e8"/>
<path d="M95,64 l-1,7 M97,64 l-1,7.5 M99,64 l-1,7.5 M101,64 l-1.5,7" stroke="#4646a0" stroke-width="0.6" fill="none"/>
<text x="77.1" y="102.7" font-family="Liberation Sans, Arial, sans-serif" font-weight="bold" font-size="7.4px" fill="#3c3c8c" textLength="25.8" lengthAdjust="spacingAndGlyphs">NCHMF</text>
</g>
<g font-family="Liberation Serif, Times New Roman, serif" font-weight="bold" font-size="16px" fill="#2222ff">
<text x="118.7" y="69.6" textLength="131.5" lengthAdjust="spacingAndGlyphs">Trung tâm Dự báo</text>
<text x="118.7" y="89.6" textLength="201.5" lengthAdjust="spacingAndGlyphs">khí tượng thuỷ văn quốc gia</text>
</g></g>
<g>
<path d="M1047.5,265.5 V88.5 H1457.5 V266" stroke="#fff" stroke-width="1" fill="none" shape-rendering="crispEdges"/>
<rect x="1048.5" y="89.5" width="408" height="176" fill="#fff" fill-opacity="0.8" stroke="none"/>
<rect x="1048.5" y="89.5" width="408" height="176" fill="none" stroke="#000" stroke-width="1" shape-rendering="crispEdges"/>
<g font-family="DejaVu Sans, Verdana, sans-serif" fill="#141824">
<text x="1085.3" y="114.9" font-size="16px" font-weight="bold" textLength="340" lengthAdjust="spacingAndGlyphs">TIN BAO KHAN CAP (CON BAO SO 11)-</text>
<text x="1087.8" y="137.7" font-size="16px" textLength="335" lengthAdjust="spacingAndGlyphs">Tin phát lúc: 20 giờ 00 phút, 04/10/2025</text>
<g font-size="14.5px" font-weight="bold">
<text x="1062.2" y="163.2" textLength="73.0" lengthAdjust="spacingAndGlyphs">Ngày-giờ</text>
<text x="1138.4" y="163.2" textLength="39.5" lengthAdjust="spacingAndGlyphs">Vĩ độ</text>
<text x="1190.8" y="163.2" textLength="60.0" lengthAdjust="spacingAndGlyphs">Kinh độ</text>
<text x="1256.7" y="163.2" textLength="59.0" lengthAdjust="spacingAndGlyphs">Cấp gió</text>
<text x="1330.3" y="163.2" textLength="46.5" lengthAdjust="spacingAndGlyphs">Vmax</text>
<text x="1395.4" y="163.2" textLength="40.5" lengthAdjust="spacingAndGlyphs">Pmin</text>
</g>
<g font-size="13px">
<text x="1060.6" y="183.0" textLength="68" lengthAdjust="spacingAndGlyphs">04/10-19h</text>
<text x="1138" y="183.0" textLength="44" lengthAdjust="spacingAndGlyphs">18.7°N</text>
<text x="1193" y="183.0" textLength="50.5" lengthAdjust="spacingAndGlyphs">114.3°E</text>
<text x="1258.4" y="183.0" textLength="29" lengthAdjust="spacingAndGlyphs">cấp:</text>
<text x="1294.2" y="183.0" textLength="14.6" lengthAdjust="spacingAndGlyphs">12</text>
<text x="1331" y="183.0" textLength="59.5" lengthAdjust="spacingAndGlyphs">120 km/h</text>
<text x="1395.4" y="183.0" textLength="46.8" lengthAdjust="spacingAndGlyphs">970 mb</text>
<text x="1060.6" y="200.9" textLength="68" lengthAdjust="spacingAndGlyphs">05/10-07h</text>
<text x="1138" y="200.9" textLength="44" lengthAdjust="spacingAndGlyphs">19.8°N</text>
<text x="1193" y="200.9" textLength="50.5" lengthAdjust="spacingAndGlyphs">111.9°E</text>
<text x="1258.4" y="200.9" textLength="29" lengthAdjust="spacingAndGlyphs">cấp:</text>
<text x="1294.2" y="200.9" textLength="14.6" lengthAdjust="spacingAndGlyphs">13</text>
<text x="1331" y="200.9" textLength="59.5" lengthAdjust="spacingAndGlyphs">139 km/h</text>
<text x="1395.4" y="200.9" textLength="46.8" lengthAdjust="spacingAndGlyphs">965 mb</text>
<text x="1060.6" y="218.9" textLength="68" lengthAdjust="spacingAndGlyphs">05/10-19h</text>
<text x="1138" y="218.9" textLength="44" lengthAdjust="spacingAndGlyphs">20.9°N</text>
<text x="1193" y="218.9" textLength="50.5" lengthAdjust="spacingAndGlyphs">109.4°E</text>
<text x="1258.4" y="218.9" textLength="29" lengthAdjust="spacingAndGlyphs">cấp:</text>
<text x="1294.2" y="218.9" textLength="14.6" lengthAdjust="spacingAndGlyphs">12</text>
<text x="1331" y="218.9" textLength="59.5" lengthAdjust="spacingAndGlyphs">120 km/h</text>
<text x="1395.4" y="218.9" textLength="46.8" lengthAdjust="spacingAndGlyphs">970 mb</text>
<text x="1060.6" y="236.8" textLength="68" lengthAdjust="spacingAndGlyphs">06/10-07h</text>
<text x="1138" y="236.8" textLength="44" lengthAdjust="spacingAndGlyphs">21.8°N</text>
<text x="1193" y="236.8" textLength="50.5" lengthAdjust="spacingAndGlyphs">107.5°E</text>
<text x="1258.4" y="236.8" textLength="29" lengthAdjust="spacingAndGlyphs">cấp:</text>
<text x="1294.2" y="236.8" textLength="14.6" lengthAdjust="spacingAndGlyphs">09</text>
<text x="1331" y="236.8" textLength="52.2" lengthAdjust="spacingAndGlyphs">83 km/h</text>
<text x="1395.4" y="236.8" textLength="46.8" lengthAdjust="spacingAndGlyphs">985 mb</text>
<text x="1060.6" y="254.8" textLength="68" lengthAdjust="spacingAndGlyphs">06/10-19h</text>
<text x="1138" y="254.8" textLength="44" lengthAdjust="spacingAndGlyphs">22.3°N</text>
<text x="1193" y="254.8" textLength="50.5" lengthAdjust="spacingAndGlyphs">105.6°E</text>
<text x="1258.4" y="254.8" textLength="29" lengthAdjust="spacingAndGlyphs">cấp:</text>
<text x="1294.2" y="254.8" textLength="15.0" lengthAdjust="spacingAndGlyphs">&lt;6</text>
<text x="1331" y="254.8" textLength="52.2" lengthAdjust="spacingAndGlyphs">37 km/h</text>
<text x="1395.4" y="254.8" textLength="54.8" lengthAdjust="spacingAndGlyphs">1004 mb</text>
</g></g></g>
<g>
<rect x="1061.5" y="272.5" width="384" height="126" fill="#fff" fill-opacity="0.8"/>
<rect x="1061.5" y="272.5" width="384" height="126" fill="none" stroke="#000" stroke-width="1" shape-rendering="crispEdges"/>
<path d="M1060.5,398.5 V271.5 H1446.5 V399" stroke="#fff" stroke-width="1" fill="none" shape-rendering="crispEdges"/>
<g font-family="Liberation Serif, Times New Roman, serif" font-size="15.2px" fill="#10141c">
<text x="1223.5" y="293.9" textLength="61.8" lengthAdjust="spacingAndGlyphs">Chú Thích</text>
<clipPath id="legclip"><rect x="1140" y="298" width="257.8" height="90"/></clipPath>
<text x="1143.6" y="317.8">Vùng có thể có gió mạnh lớn hơn cấp 6</text>
<text x="1143.6" y="337.6" clip-path="url(#legclip)">Vùng bão, ATNĐ, vùng thấp có thể đi qua</text>
<text x="1143.6" y="357.3">Vị trí tâm bão, ATNĐ, vùng thấp đã qua</text>
<text x="1143.6" y="377.1">Vị trí tâm bão, ATNĐ, vùng thấp hiện tại, dự báo</text>
</g>
<circle cx="1083.5" cy="311.2" r="8.2" fill="#dda5ee"/>
<circle cx="1083.5" cy="331.3" r="7.8" fill="#88e08f" stroke="#7cf03c" stroke-width="0.9"/>
<use href="#ty" x="1082.5" y="351.1" fill="#1c242c"/>
<circle cx="1103.1" cy="351.1" r="6.5" fill="none" stroke="#1c242c" stroke-width="2.4"/>
<circle cx="1123.2" cy="351.1" r="7.8" fill="#1c242c"/>
<path d="M1121.3,346.7 v7.6 h5.4" stroke="#fff" stroke-width="1.9" fill="none"/>
<use href="#ty" x="1082.5" y="371.0" fill="#e82030"/>
<circle cx="1103.1" cy="371.0" r="5" fill="none" stroke="#e82030" stroke-width="5.6"/>
<circle cx="1082.6" cy="371.3" r="1.8" fill="#fff"/>
<circle cx="1123.2" cy="371.0" r="7.8" fill="#e82030"/>
<path d="M1121.3,366.6 v7.6 h5.4" stroke="#fff" stroke-width="1.9" fill="none"/>
</g>
</g>
<path d="M22.5,11 V907 M22,11.5 H1518 M53.5,8 V12 M83.5,8 V12 M113.5,8 V12 M143.5,8 V12 M173.5,8 V12 M203.5,8 V12 M233.5,8 V12 M263.5,8 V12 M293.5,8 V12 M323.5,8 V12 M353.5,8 V12 M383.5,8 V12 M413.5,8 V12 M443.5,8 V12 M473.5,8 V12 M502.5,8 V12 M532.5,8 V12 M562.5,8 V12 M592.5,8 V12 M622.5,8 V12 M652.5,8 V12 M682.5,8 V12 M712.5,8 V12 M742.5,8 V12 M772.5,8 V12 M802.5,8 V12 M832.5,8 V12 M862.5,8 V12 M892.5,8 V12 M922.5,8 V12 M952.5,8 V12 M982.5,8 V12 M1012.5,8 V12 M1042.5,8 V12 M1072.5,8 V12 M1101.5,8 V12 M1131.5,8 V12 M1161.5,8 V12 M1191.5,8 V12 M1221.5,8 V12 M1251.5,8 V12 M1281.5,8 V12 M1311.5,8 V12 M1341.5,8 V12 M1371.5,8 V12 M1401.5,8 V12 M1431.5,8 V12 M1461.5,8 V12 M1491.5,8 V12 M19,42.5 H23 M19,72.5 H23 M19,102.5 H23 M19,132.5 H23 M19,162.5 H23 M19,192.5 H23 M19,222.5 H23 M19,252.5 H23 M19,282.5 H23 M19,312.5 H23 M19,342.5 H23 M19,371.5 H23 M19,401.5 H23 M19,431.5 H23 M19,461.5 H23 M19,491.5 H23 M19,521.5 H23 M19,551.5 H23 M19,581.5 H23 M19,611.5 H23 M19,641.5 H23 M19,671.5 H23 M19,701.5 H23 M19,730.5 H23 M19,760.5 H23 M19,790.5 H23 M19,820.5 H23 M19,850.5 H23 M19,880.5 H23 " stroke="#000" stroke-width="1" fill="none" shape-rendering="crispEdges"/>
<g font-family="Liberation Sans, Arial, sans-serif" fill="#000">
<clipPath id="ctop"><rect x="22" y="0" width="1500" height="8"/></clipPath>
<text x="15.6" y="6" font-size="11px" textLength="16.2" lengthAdjust="spacingAndGlyphs" clip-path="url(#ctop)">95E</text>
<text x="162.5" y="6" font-size="11px" textLength="21.7" lengthAdjust="spacingAndGlyphs" clip-path="url(#ctop)">100E</text>
<text x="312.3" y="6" font-size="11px" textLength="21.7" lengthAdjust="spacingAndGlyphs" clip-path="url(#ctop)">105E</text>
<text x="462.1" y="6" font-size="11px" textLength="21.7" lengthAdjust="spacingAndGlyphs" clip-path="url(#ctop)">110E</text>
<text x="612.0" y="6" font-size="11px" textLength="21.7" lengthAdjust="spacingAndGlyphs" clip-path="url(#ctop)">115E</text>
<text x="761.8" y="6" font-size="11px" textLength="21.7" lengthAdjust="spacingAndGlyphs" clip-path="url(#ctop)">120E</text>
<text x="911.6" y="6" font-size="11px" textLength="21.7" lengthAdjust="spacingAndGlyphs" clip-path="url(#ctop)">125E</text>
<text x="1061.4" y="6" font-size="11px" textLength="21.7" lengthAdjust="spacingAndGlyphs" clip-path="url(#ctop)">130E</text>
<text x="1211.2" y="6" font-size="11px" textLength="21.7" lengthAdjust="spacingAndGlyphs" clip-path="url(#ctop)">135E</text>
<text x="1361.0" y="6" font-size="11px" textLength="21.7" lengthAdjust="spacingAndGlyphs" clip-path="url(#ctop)">140E</text>
</g>
<g font-family="Liberation Sans, Arial, sans-serif" fill="#000" font-size="12.5px">
<text x="-1.3" y="166.4" textLength="19.9" lengthAdjust="spacingAndGlyphs">25N</text>
<text x="-1.3" y="315.9" textLength="19.9" lengthAdjust="spacingAndGlyphs">20N</text>
<text x="-1.3" y="465.4" textLength="19.9" lengthAdjust="spacingAndGlyphs">15N</text>
<text x="-1.3" y="614.9" textLength="19.9" lengthAdjust="spacingAndGlyphs">10N</text>
<text x="4.7" y="764.4" textLength="13.9" lengthAdjust="spacingAndGlyphs">5N</text>
<clipPath id="c30"><rect x="0" y="12" width="22" height="8"/></clipPath>
<text x="-1.3" y="16.4" textLength="19.9" lengthAdjust="spacingAndGlyphs" clip-path="url(#c30)">30N</text>
</g>
</svg>
</body></html>
